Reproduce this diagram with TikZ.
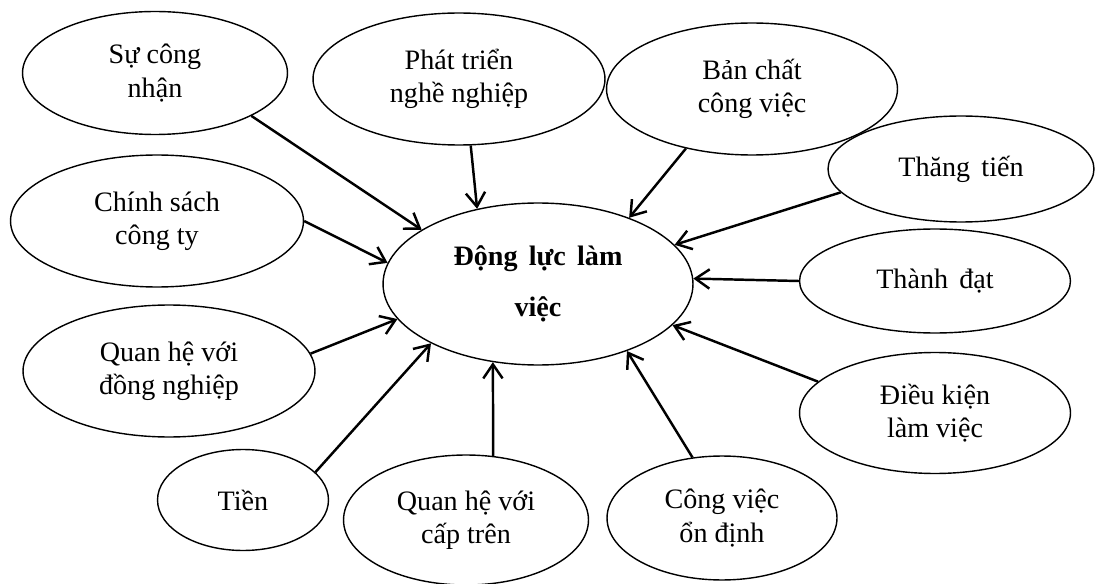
\documentclass[tikz,border=0pt]{standalone}
\usepackage{fontspec}
\setmainfont{Liberation Serif}
\usetikzlibrary{shapes.geometric, arrows.meta}

\begin{document}
\begin{tikzpicture}[x=0.02cm, y=-0.02cm,
  factor/.style={ellipse, draw, line width=0.8pt, inner sep=0pt, align=center,
    font=\fontsize{16}{19}\selectfont},
  push/.style={-{Straight Barb[length=8pt,width=11pt]}, line width=1.4pt}]
\useasboundingbox (0,0) rectangle (1095,584);
\node[factor, minimum width=6.2cm, minimum height=3.24cm,
  font=\bfseries\fontsize{16}{29}\selectfont] (dl) at (538,284)
  {Động\hspace{0.4em}lực\hspace{0.4em}làm\\việc};
\node[factor, minimum width=5.3cm, minimum height=2.46cm] (scn) at (155,73) {Sự công\\nhận};
\node[factor, minimum width=5.86cm, minimum height=2.64cm] (cs) at (157,221) {Chính sách\\công ty};
\node[factor, minimum width=5.84cm, minimum height=2.64cm] (dn) at (169,371) {Quan hệ với\\đồng nghiệp};
\node[factor, minimum width=3.42cm, minimum height=2.02cm] (tien) at (243,500) {Tiền};
\node[factor, minimum width=4.9cm, minimum height=2.6cm] (ct) at (466,520) {Quan hệ với\\cấp trên};
\node[factor, minimum width=4.6cm, minimum height=2.48cm] (od) at (722,518) {Công việc\\ổn định};
\node[factor, minimum width=5.42cm, minimum height=2.42cm] (dk) at (935,413) {Điều kiện\\làm việc};
\node[factor, minimum width=5.42cm, minimum height=2.08cm] (td) at (935,281) {Thành\hspace{0.4em}đạt};
\node[factor, minimum width=5.32cm, minimum height=2.12cm] (tt) at (961,169) {Thăng\hspace{0.4em}tiến};
\node[factor, minimum width=5.82cm, minimum height=2.64cm] (bc) at (752,89) {Bản chất\\công việc};
\node[factor, minimum width=5.84cm, minimum height=2.64cm] (pt) at (459,79) {Phát triển\\nghề nghiệp};
\draw[push] (scn.-24) -- (dl.155);
\draw[push] (cs.0) -- (dl.172);
\draw[push] (pt.-80) -- (dl.129);
\draw[push] (bc.222) -- (dl.36);
\draw[push] (tt.191) -- (dl.16);
\draw[push] (td.180) -- (dl.2);
\draw[push] (dk.165) -- (dl.-17);
\draw[push] (od.116) -- (dl.-37);
\draw[push] (ct.67) -- (dl.240);
\draw[push] (tien.21) -- (dl.209);
\draw[push] (dn.7) -- (dl.194);
\end{tikzpicture}
\end{document}
